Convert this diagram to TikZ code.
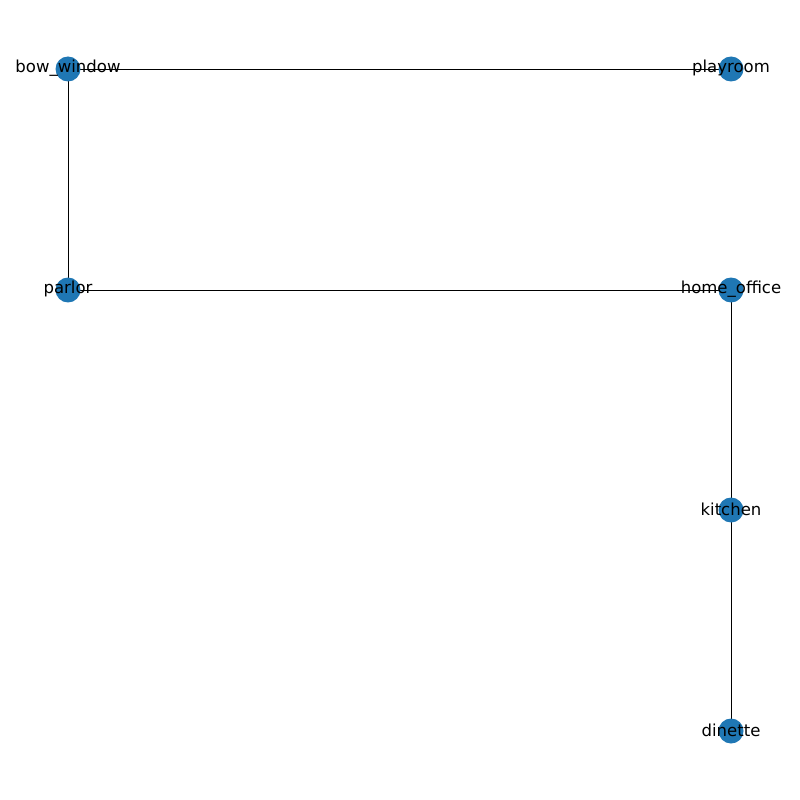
\documentclass[tikz,border=0pt]{standalone}
\usepackage{fontspec}
\setmainfont{DejaVu Sans}
\usetikzlibrary{backgrounds}
\definecolor{nodeBlue}{HTML}{1F77B4}

\begin{document}
\begin{tikzpicture}[x=0.02cm, y=-0.02cm, font=\fontsize{9.4}{11}\selectfont,
        room/.style={circle, fill=nodeBlue, minimum size=0.5cm, inner sep=0pt},
        lbl/.style={inner sep=0pt, yshift=0.5pt},
        link/.style={black, line width=0.5pt}]
        \useasboundingbox (0,0) rectangle (800,800);
        \node[room] (bw) at (68,69)   {};
        \node[room] (pr) at (731,69)  {};
        \node[room] (pa) at (68,290)  {};
        \node[room] (ho) at (731,290) {};
        \node[room] (ki) at (731,510) {};
        \node[room] (di) at (731,731) {};
        \begin{scope}[on background layer]
            \draw[link] (bw.center) -- (pr.center);
            \draw[link] (bw.center) -- (pa.center);
            \draw[link] (pa.center) -- (ho.center);
            \draw[link] (ho.center) -- (ki.center);
            \draw[link] (ki.center) -- (di.center);
        \end{scope}
        \node[lbl] at (bw) {bow\_window};
        \node[lbl] at (pr) {playroom};
        \node[lbl] at (pa) {parlor};
        \node[lbl] at (ho) {home\_office};
        \node[lbl] at (ki) {kitchen};
        \node[lbl] at (di) {dinette};
    \end{tikzpicture}
\end{document}
